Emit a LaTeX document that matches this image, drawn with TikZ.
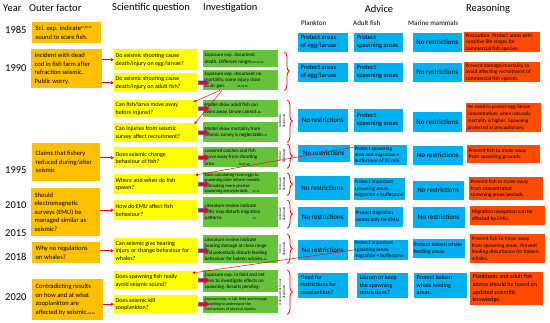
\documentclass[tikz,border=0pt]{standalone}
\usepackage{fontspec}
\setmainfont{Carlito}
\usetikzlibrary{arrows.meta,calc,decorations.pathreplacing}
\definecolor{cOr}{RGB}{255,192,0}
\definecolor{cYe}{RGB}{255,255,0}
\definecolor{cGr}{RGB}{102,194,58}
\definecolor{cBl}{RGB}{0,176,240}
\definecolor{cRd}{RGB}{255,75,0}
\definecolor{cArB}{RGB}{68,114,196}
\newcommand\fsz[2]{\fontsize{#1}{#2}\selectfont}
\newcommand\rf[1]{{\fontsize{3}{3}\selectfont #1}}
% style, name, x1, y1, x2, y2, text-options, text
\newcommand\bx[8]{%
  \pgfmathsetmacro\bxw{#5-#3}%
  \pgfmathsetmacro\bxh{#6-#4}%
  \node[#1, anchor=north west, minimum width=\bxw pt, minimum height=\bxh pt] (#2) at (#3,#4) {};%
  \node[txt, anchor=west, #7] at (#2.west) {#8};}
\newcommand\bxc[8]{%
  \pgfmathsetmacro\bxw{#5-#3}%
  \pgfmathsetmacro\bxh{#6-#4}%
  \node[#1, anchor=north west, minimum width=\bxw pt, minimum height=\bxh pt] (#2) at (#3,#4) {};%
  \node[txt, align=center, anchor=center, #7] at (#2.center) {#8};}
\newcommand\barr[1]{\draw[barrow] ($(#1.east)+(1,-1.8)$) -- ++(6,0) -- ++(0,-2) -- ++(5,3.8) -- ++(-5,3.8) -- ++(0,-2) -- ++(-6,0) -- cycle;}
\tikzset{
  ob/.style={fill=cOr, inner sep=0pt},
  yb/.style={fill=cYe, inner sep=0pt},
  gb/.style={fill=cGr, inner sep=0pt},
  bb/.style={fill=cBl, draw=white, line width=0.4pt, inner sep=0pt},
  rb/.style={fill=cRd, inner sep=0pt},
  txt/.style={inner sep=1.5pt, align=left, text=black},
  tO/.style={font=\fsz{6.6}{8.5}, xshift=2pt},
  tQ/.style={font=\fsz{6}{7.5}},
  tG/.style={font=\fsz{5}{6.3}},
  tGs/.style={font=\fsz{4.6}{5.3}},
  tGx/.style={font=\fsz{4}{5}},
  tB/.style={font=\fsz{6.6}{8}, xshift=2pt},
  tN/.style={font=\fsz{7}{8}},
  tBs/.style={font=\fsz{5.3}{6.4}},
  tBm/.style={font=\fsz{6}{7.4}, xshift=2pt},
  tR/.style={font=\fsz{5.4}{6.6}},
  tRl/.style={font=\fsz{6}{7.6}, xshift=1pt},
  hd/.style={font=\fsz{10.5}{12}, inner sep=0pt},
  sh/.style={font=\fsz{7}{8}, inner sep=0pt},
  lik/.style={font=\fsz{3.4}{3.9}, align=center, inner sep=0pt, rotate=90},
  rarr/.style={red, line width=0.6pt, -{Triangle[length=3pt,width=3pt]}},
  fb/.style={red, line width=0.5pt, -{Triangle[length=2.5pt,width=2.5pt]}},
  barrow/.style={fill=red, draw=cArB, line width=0.5pt},
  brc/.style={red, line width=0.8pt, decorate, decoration={brace, amplitude=5pt}}
}
\begin{document}
\begin{tikzpicture}[x=1pt,y=-1pt]
\fill[white] (0,0) rectangle (550,322);
\useasboundingbox (0,0) rectangle (550,322);
% headers
\node[hd, anchor=west] (hYear) at (3,8) {Year};
\node[hd, anchor=west] (hOut) at (29,8) {Outer factor};
\node[hd, anchor=west] (hSci) at (112,8) {Scientific question};
\node[hd, anchor=west] (hInv) at (203,8) {Investigation};
\node[hd] (hAdv) at (379,9) {Advice};
\node[sh, anchor=west] (hPl) at (301,23) {Plankton};
\node[sh, anchor=west] (hAd) at (353,23) {Adult fish};
\node[sh, anchor=west] (hMm) at (408,23) {Marine mammals};
\node[hd, anchor=west] (hRe) at (466,9) {Reasoning};
% years
\node[hd, anchor=west] (y85) at (5,30) {1985};
\node[hd, anchor=west] (y90) at (5,68) {1990};
\node[hd, anchor=west] (y95) at (5,170) {1995};
\node[hd, anchor=west] (y10) at (5,205) {2010};
\node[hd, anchor=west] (y15) at (5,233) {2015};
\node[hd, anchor=west] (y18) at (5,257) {2018};
\node[hd, anchor=west] (y20) at (5,297) {2020};
% outer factors
\bx{ob}{o1}{32}{22}{101}{43}{tO}{Sci. exp. indicate\raisebox{2.5pt}{\rf{27,28,29}}\\sound to scare fish.}
\bx{ob}{o2}{31}{49}{102}{88}{tO}{Incident with dead\\cod in fish farm after\\refraction seismic.\\Public worry.}
\bx{ob}{o3}{32}{143}{100}{181}{tO}{Claims that fishery\\reduced during/after\\seismic}
\bx{ob}{o4}{31}{188}{100}{236}{tO}{Should\\electromagnetic\\surveys (EMU) be\\managed similar as\\seismic?}
\bx{ob}{o5}{32}{242}{100}{263}{tO}{Why no regulations\\on whales?}
\bx{ob}{o6}{32}{279}{103}{320}{tO}{Contradicting results\\on how and at what\\zooplankton are\\affected by seismic.\rf{45,46}}
% scientific questions
\bx{yb}{q1}{114}{49}{197}{70}{tQ}{Do seismic shooting cause\\death/injury on egg/larvae?}
\bx{yb}{q2}{114}{73}{197}{92}{tQ}{Do seismic shooting cause\\death/injury on adult fish?}
\bx{yb}{q3}{114}{100}{197}{117}{tQ}{Can fish/larva move away\\before injured?}
\bx{yb}{q4}{114}{123}{197}{142}{tQ}{Can injuries from seismic\\survey affect recruitment?}
\bx{yb}{q5}{114}{147}{197}{168}{tQ}{Does seismic change\\behaviour of fish?}
\bx{yb}{q6}{114}{174}{197}{194}{tQ}{Where and when do fish\\spawn?}
\bx{yb}{q7}{114}{200}{197}{220}{tQ}{How do EMU affect fish\\behaviour?}
\bx{yb}{q8}{114}{238}{197}{263}{tQ}{Can seismic give hearing\\injury or change behaviour for\\whales?}
\bx{yb}{q9}{114}{271}{197}{289}{tQ}{Does spawning fish really\\avoid seismic sound?}
\bx{yb}{q10}{114}{295}{197}{313}{tQ}{Does seismic kill\\zooplankton?}
% investigations
\bx{gb}{g1}{203}{50}{278}{67}{tG}{Exposure exp. document\\death. Different ranges.\rf{30,31,32}}
\bx{gb}{g2}{203}{70}{278}{90}{tG}{Exposure exp. document no\\mortality, some injury close\\to air gun.\hspace{12pt}\rf{33,34,35}}
\bx{gb}{g3}{203}{100}{278}{117}{tG}{Model show adult fish can\\swim away, larvae cannot.\rf{36}}
\bx{gb}{g4}{203}{122}{278}{142}{tG}{Model show mortality from\\seismic survey is neglectable.\rf{37}}
\bx{gb}{g5}{203}{147}{278}{167}{tG}{Lowered catches and fish\\move away from shooting\\area.\hspace{24pt}\rf{38,39,40}}
\bx{gb}{g6}{203}{172}{278}{194}{tGs}{Back calculating from eggs to\\spawning date inform models\\estimating more precise\\spawning area/periods.\hspace{4pt}\rf{41,42}}
\bx{gb}{g7}{203}{197}{278}{227}{tG}{Literature review indicate\\EMU may disturb migration\\patterns.\hspace{30pt}\rf{43}}
\bx{gb}{g8}{203}{235}{278}{263}{tG}{Literature review indicate\\hearing damage at close range\\and potentially disturb feeding\\behaviour for baleen whales.\rf{44}}
\bx{gb}{g9}{203}{270}{278}{292}{tG}{Exposure exp. in field and net\\pens to investigate effects on\\spawning. Results pending.}
\bx{gb}{g10}{203}{296}{278}{313}{tGx}{Exposure exp. in lab, field and through\\modelling to understand the\\mechanisms of physical injuries.}
% block arrows
\barr{q2}\barr{q3}\barr{q4}\barr{q5}\barr{q6}\barr{q7}\barr{q8}\barr{q9}\barr{q10}
% braces and likelihood labels
\draw[brc] ($(g1.north east)+(6,2)$) -- ($(g2.south east)+(6,0)$);
\draw[brc] ($(g3.north east)+(9,0)$) -- ($(g4.south east)+(9,0)$);
\node[lik] (l2) at (282,121) {Unknown\\likelihood};
\draw[brc] ($(g5.north east)+(9,-3)$) -- ($(g5.south east)+(9,1)$);
\node[lik] (l3) at (282,156) {Minor\\likelihood};
\draw[brc] ($(g6.north east)+(9,1)$) -- ($(g6.south east)+(9,1)$);
\node[lik] (l4) at (282,184) {Unknown\\likelihood};
\draw[brc] ($(g7.north east)+(9,3)$) -- ($(g7.south east)+(9,1)$);
\node[lik] (l5) at (282,214) {Unknown\\likelihood};
\draw[brc] ($(g8.north east)+(9,-1)$) -- ($(g8.south east)+(9,0)$);
\node[lik] (l6) at (282,249) {Minor\\likelihood};
\draw[brc] ($(g9.north east)+(9,0)$) -- ($(g10.south east)+(9,1)$);
\node[lik] (l7) at (282,292) {Unknown or minor\\likelihood};
% advice row 1
\bx{bb}{p1}{297}{32}{348}{52}{tB}{Protect areas\\of egg/larvae}
\bx{bb}{f1}{353}{32}{403}{52}{tB}{Protect\\spawning areas}
\bxc{bb}{m1}{412}{32}{462}{52}{tN}{No restrictions}
\bx{rb}{r1}{464}{32}{540}{52}{tR}{Precaution. Protect areas with\\sensitive life stages for\\commercial fish species.}
% row 2
\bx{bb}{p2}{297}{62}{348}{82}{tB}{Protect areas\\of egg/larvae}
\bx{bb}{f2}{353}{62}{403}{82}{tB}{Protect\\spawning areas}
\bxc{bb}{m2}{412}{62}{462}{82}{tN}{No restrictions}
\bx{rb}{r2}{464}{62}{540}{82}{tR}{Prevent damage/mortality to\\avoid affecting recruitment of\\commercial fish species.}
% row 3
\bxc{bb}{p3}{297}{108}{348}{132}{tN}{No restrictions}
\bx{bb}{f3}{353}{108}{403}{132}{tB}{Protect\\spawning areas}
\bxc{bb}{m3}{412}{111}{462}{132}{tN}{No restrictions}
\bx{rb}{r3}{466}{103}{541}{132}{font=\fsz{5.1}{6.8}}{No need to protect egg/larvae\\concentrations when naturally\\mortality is higher.\ \ Spawning\\protected as precautionary.}
% row 4
\bxc{bb}{p4}{297}{144}{350}{162}{tN}{No restrictions}
\bx{bb}{f4}{353}{144}{407}{165}{tBs}{Protect spawning\\area and migration +\\bufferzone of 20 nmi}
\bxc{bb}{m4}{412}{145}{463}{165}{tN}{No restrictions}
\bx{rb}{r4}{467}{145}{540}{163}{tR}{Prevent fish to move away\\from spawning grounds.}
% row 5
\bxc{bb}{p5}{294}{175}{350}{200}{tN}{No restrictions}
\bx{bb}{f5}{353}{177}{405}{200}{tBs}{Protect important\\spawning areas,\\migration + bufferzone}
\bxc{bb}{m5}{412}{180}{464}{200}{tN}{No restrictions}
\bx{rb}{r5}{469}{177}{543}{200}{tR}{Prevent fish to move away\\from concentrated\\spawning areas/periods.}
% row 6
\bxc{bb}{p6}{297}{206}{348}{227}{tN}{No restrictions}
\bx{bb}{f6}{354}{206}{403}{227}{tBs}{Protect migration\\routes only for EMU}
\bxc{bb}{m6}{412}{206}{465}{228}{tN}{No restrictions}
\bx{rb}{r6}{470}{206}{545}{225}{tR}{Migration navigation can be\\affected by EMU.}
% row 7
\bxc{bb}{p7}{297}{239}{348}{260}{tN}{No restrictions}
\bx{bb}{f7}{353}{239}{408}{260}{tBs}{Protect important\\spawning areas,\\migration + bufferzone}
\bx{bb}{m7}{412}{238}{465}{258}{font=\fsz{5.6}{7}}{Protect baleen whale\\feeding areas.}
\bx{rb}{r7}{470}{234}{545}{263}{tR}{Prevent fish to move away\\from spawning areas. Prevent\\feeding disturbance for baleen\\whales.}
% row 8
\bx{bb}{p8}{297}{272}{348}{298}{tBm}{Need for\\restrictions for\\zooplankton?}
\bx{bb}{f8}{356}{272}{408}{298}{tBm}{Loosen or keep\\the spawning\\restrictions?}
\bx{bb}{m8}{413}{272}{467}{298}{tBm}{Protect baleen\\whale feeding\\areas.}
\bx{rb}{r8}{470}{272}{543}{305}{tRl}{Planktonic and adult fish\\advice should be based on\\updated scientific\\knowledge.}
% outer factor -> question arrows
\draw[rarr] (o2.east |- q1.west) -- (q1.west);
\draw[rarr] (o2.east |- q2.west) -- (q2.west);
\draw[rarr] (o3.east |- q5.west) -- (q5.west);
\draw[rarr] (o4.east |- q7.west) -- (q7.west);
\draw[rarr] (o5.east |- q8.west) -- (q8.west);
\draw[rarr] (o6.east |- q10.west) -- (q10.west);
% feedback lines
\draw[fb] ($(g2.south west)+(17,0)$) -- ($(q3.north east)+(-4,2)$);
\draw[fb] ($(g2.south west)+(19,0)$) -- ($(q4.north east)+(-3,1)$);
\draw[fb] ($(f4.north west)+(2,3)$) -- ($(q6.north east)+(-2,1)$);
\draw[fb] ($(f7.west)+(2,0)$) -- ($(q9.north east)+(-5,2)$);
\end{tikzpicture}
\end{document}
